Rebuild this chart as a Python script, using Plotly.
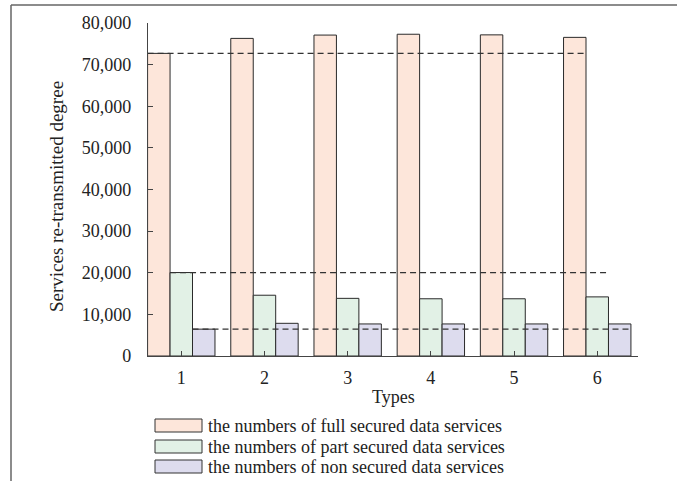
import plotly.graph_objects as go

types = [1, 2, 3, 4, 5, 6]
series_names = [
    "the numbers of full secured data services",
    "the numbers of part secured data services",
    "the numbers of non secured data services",
]
full_vals = [72700, 76300, 77100, 77300, 77150, 76550]
part_vals = [20050, 14600, 13850, 13750, 13750, 14200]
non_vals = [6450, 7850, 7700, 7700, 7700, 7700]
y_ticks = [0, 10000, 20000, 30000, 40000, 50000, 60000, 70000, 80000]

colors = ["#FDE6DA", "#E2F1E6", "#DDDCEE"]
all_vals = [full_vals, part_vals, non_vals]

W, H = 677, 481
ML, MR, MT, MB = 148, 39, 23, 125
PW, PH = W - ML - MR, H - MT - MB
FONT = "Liberation Serif"

def px(x):
    return (x - ML) / PW

def py(y):
    return (H - MB - y) / PH

fig = go.Figure()
bargap = 0.19
bw = (1 - bargap) / 3
for i, (name, vals) in enumerate(zip(series_names, all_vals)):
    fig.add_trace(go.Bar(
        x=types, y=vals, name=name,
        marker=dict(color=colors[i], line=dict(color="#2a2a2a", width=1)),
        showlegend=False,
    ))
    # dashed reference line at type-1 value, spanning this series' bars
    x0 = types[0] - (1 - bargap) / 2 + i * bw
    x1 = types[-1] - (1 - bargap) / 2 + (i + 1) * bw
    fig.add_trace(go.Scatter(
        x=[x0, x1], y=[vals[0], vals[0]], mode="lines",
        line=dict(color="#333333", width=1.2, dash="6px,4px"),
        showlegend=False, hoverinfo="skip",
    ))

x_range = [0.6, 6.49]
fig.update_layout(
    width=W, height=H,
    margin=dict(l=ML, r=MR, t=MT, b=MB),
    paper_bgcolor="white", plot_bgcolor="white",
    barmode="group", bargap=bargap, bargroupgap=0,
    font=dict(family=FONT, size=18, color="#222222"),
    xaxis=dict(
        range=x_range, tickvals=types + [x_range[1]],
        ticktext=[str(t) for t in types] + [""],
        ticks="inside", ticklen=5, tickcolor="#444", tickwidth=1,
        showline=True, linecolor="#444", linewidth=1.2,
        showgrid=False, zeroline=False, ticklabelstandoff=5,
        tickfont=dict(family=FONT, size=18, color="#222"),
    ),
    yaxis=dict(
        range=[0, 80000], tickvals=y_ticks, tickformat=",",
        ticks="inside", ticklen=5, tickcolor="#444", tickwidth=1,
        showline=True, linecolor="#444", linewidth=1.2,
        showgrid=False, zeroline=False, ticklabelstandoff=12,
        tickfont=dict(family=FONT, size=18, color="#222"),
    ),
)

annotations = [
    dict(text="Services re-transmitted degree", x=px(56), y=py(197),
         xref="paper", yref="paper", textangle=-90, showarrow=False,
         xanchor="center", yanchor="middle",
         font=dict(family=FONT, size=19, color="#222")),
    dict(text="Types", x=px(393), y=py(397), xref="paper", yref="paper",
         showarrow=False, xanchor="center", yanchor="middle",
         font=dict(family=FONT, size=18, color="#222")),
]
shapes = [
    dict(type="line", xref="paper", yref="paper", x0=px(11), x1=px(677),
         y0=py(5), y1=py(5), line=dict(color="#666", width=1.5)),
    dict(type="line", xref="paper", yref="paper", x0=px(11), x1=px(11),
         y0=py(5), y1=py(481), line=dict(color="#666", width=1.5)),
]
box_tops = [419, 440, 460]
for i, name in enumerate(series_names):
    t = box_tops[i]
    shapes.append(dict(type="rect", xref="paper", yref="paper",
                       x0=px(155), x1=px(202), y0=py(t), y1=py(t + 13),
                       fillcolor=colors[i], line=dict(color="#333", width=1)))
    annotations.append(dict(text=name, x=px(206), y=py(t + 6.5),
                            xref="paper", yref="paper", showarrow=False,
                            xanchor="left", yanchor="middle",
                            font=dict(family=FONT, size=18, color="#222")))
fig.update_layout(annotations=annotations, shapes=shapes)

fig.write_html("out.html", config={"displayModeBar": False},
               post_script="document.body.style.margin='0';document.body.style.overflow='hidden';")
